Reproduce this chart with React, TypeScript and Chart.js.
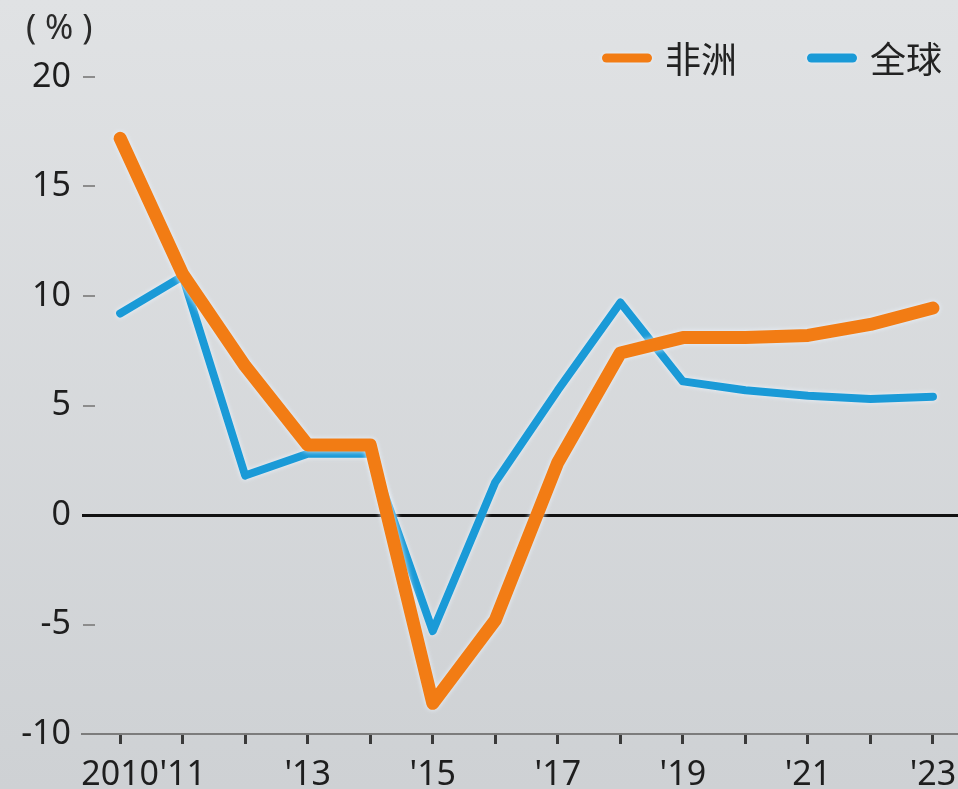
import { useEffect, useRef } from "react";
import { Chart, registerables } from "chart.js";

Chart.register(...registerables);

// ---- data ----
const years = [2010, 2011, 2012, 2013, 2014, 2015, 2016, 2017, 2018, 2019, 2020, 2021, 2022, 2023];
const africa = [17.2, 11.0, 6.8, 3.2, 3.2, -8.6, -4.8, 2.4, 7.4, 8.1, 8.1, 8.2, 8.7, 9.45];
const world = [9.2, 10.9, 1.8, 2.8, 2.8, -5.3, 1.5, 5.7, 9.7, 6.1, 5.7, 5.45, 5.3, 5.4];
const seriesNames = ["非洲", "全球"];
const seriesColors = ["#f27c14", "#1a9ad7"];
const xTickLabels: Record<number, string> = {
  2010: "2010",
  2011: "'11",
  2013: "'13",
  2015: "'15",
  2017: "'17",
  2019: "'19",
  2021: "'21",
  2023: "'23",
};
const yMin = -10;
const yMax = 20;
const yStep = 5;
const unitLabel = "( % )";

const W = 958;
const H = 789;

const bgPlugin = {
  id: "bg",
  beforeDraw(chart: any) {
    const { ctx, width, height } = chart;
    const g = ctx.createLinearGradient(0, 0, 0, height);
    g.addColorStop(0, "#e0e2e4");
    g.addColorStop(1, "#ced1d4");
    ctx.save();
    ctx.fillStyle = g;
    ctx.fillRect(0, 0, width, height);
    ctx.restore();
  },
};

const glowPlugin = {
  id: "glow",
  beforeDatasetDraw(chart: any) {
    const ctx = chart.ctx;
    ctx.save();
    ctx.shadowColor = "rgba(236,246,255,0.95)";
    ctx.shadowBlur = 5;
  },
  afterDatasetDraw(chart: any) {
    chart.ctx.restore();
  },
};

const decorPlugin = {
  id: "decor",
  beforeDatasetsDraw(chart: any) {
    const { ctx, chartArea, scales } = chart;
    const y = scales.y;
    ctx.save();
    ctx.strokeStyle = "#8c8c8c";
    ctx.lineWidth = 2;
    y.ticks.forEach((t: any) => {
      if (t.value === 0 || t.value === yMin) return;
      const py = Math.round(y.getPixelForValue(t.value));
      ctx.beginPath();
      ctx.moveTo(chartArea.left + 1, py);
      ctx.lineTo(chartArea.left + 13, py);
      ctx.stroke();
    });
    ctx.restore();
  },
  afterDraw(chart: any) {
    const { ctx, width } = chart;
    ctx.save();
    // unit label
    ctx.fillStyle = "#2a2a2a";
    ctx.font = '34px "Noto Sans", sans-serif';
    ctx.textAlign = "left";
    ctx.textBaseline = "middle";
    ctx.fillText(unitLabel, 26, 29);

    // legend
    ctx.font = '36px "Noto Sans CJK SC", sans-serif';
    const lineLen = 50;
    const gapText = 13;
    const itemGap = 70;
    const ly = 58;
    const items = chart.data.datasets.map((d: any) => ({
      text: d.label,
      color: d.borderColor,
      w: lineLen + gapText + ctx.measureText(d.label).width,
    }));
    let x = width - 16;
    const starts: number[] = [];
    for (let i = items.length - 1; i >= 0; i--) {
      x -= items[i].w;
      starts[i] = x;
      x -= itemGap;
    }
    items.forEach((it: any, i: number) => {
      const sx = starts[i];
      ctx.save();
      ctx.shadowColor = "rgba(236,246,255,0.95)";
      ctx.shadowBlur = 4;
      ctx.strokeStyle = it.color;
      ctx.lineWidth = 9;
      ctx.lineCap = "round";
      ctx.beginPath();
      ctx.moveTo(sx + 4.5, ly);
      ctx.lineTo(sx + lineLen - 4.5, ly);
      ctx.stroke();
      ctx.restore();
      ctx.fillStyle = "#222";
      ctx.textBaseline = "middle";
      ctx.fillText(it.text, sx + lineLen + gapText, ly + 1);
    });
    ctx.restore();
  },
};

export default function App() {
  const ref = useRef<HTMLCanvasElement | null>(null);

  useEffect(() => {
    if (!ref.current) return;
    const tickFont = { family: '"Noto Sans", sans-serif', size: 34 };
    const chart = new Chart(ref.current, {
      type: "line",
      data: {
        datasets: [
          {
            label: seriesNames[0],
            data: years.map((x, i) => ({ x, y: africa[i] })),
            borderColor: seriesColors[0],
            backgroundColor: seriesColors[0],
            borderWidth: 13,
            borderJoinStyle: "round",
            borderCapStyle: "round",
            pointRadius: 0,
            tension: 0,
          },
          {
            label: seriesNames[1],
            data: years.map((x, i) => ({ x, y: world[i] })),
            borderColor: seriesColors[1],
            backgroundColor: seriesColors[1],
            borderWidth: 8,
            borderJoinStyle: "round",
            borderCapStyle: "round",
            pointRadius: 0,
            tension: 0,
          },
        ],
      },
      options: {
        animation: false,
        responsive: false,
        devicePixelRatio: 1,
        layout: { padding: { top: 77, left: 0, right: 0, bottom: 0 } },
        plugins: {
          legend: { display: false },
          tooltip: { enabled: false },
        },
        scales: {
          x: {
            type: "linear",
            min: 2009.39,
            max: 2023.4,
            afterBuildTicks: (s: any) => {
              s.ticks = years.map((v) => ({ value: v }));
            },
            afterFit: (s: any) => {
              s.height = 55;
              s.paddingLeft = 0;
              s.paddingRight = 0;
            },
            border: { display: true, color: "#7c7c7c", width: 2 },
            grid: {
              display: true,
              drawOnChartArea: false,
              drawTicks: true,
              tickLength: 10,
              tickColor: "#3a3a3a",
              tickWidth: 3,
            },
            ticks: {
              autoSkip: false,
              maxRotation: 0,
              padding: 11,
              color: "#1e1e1e",
              font: tickFont,
              callback: (v: any) => xTickLabels[v as number] ?? "",
            },
          },
          y: {
            min: yMin,
            max: yMax,
            afterFit: (s: any) => {
              s.width = 82;
              s.paddingTop = 0;
              s.paddingBottom = 0;
            },
            border: { display: false },
            grid: {
              display: true,
              drawTicks: false,
              drawOnChartArea: true,
              color: (c: any) => (c.tick && c.tick.value === 0 ? "#111" : "rgba(0,0,0,0)"),
              lineWidth: (c: any) => (c.tick && c.tick.value === 0 ? 3 : 0),
            },
            ticks: {
              stepSize: yStep,
              padding: 11,
              color: "#1e1e1e",
              font: tickFont,
            },
          },
        },
      } as any,
      plugins: [bgPlugin, glowPlugin, decorPlugin],
    });
    return () => chart.destroy();
  }, []);

  return (
    <div style={{ position: "absolute", left: 0, top: 0, width: W, height: H }}>
      <canvas ref={ref} width={W} height={H} style={{ width: W, height: H, display: "block" }} />
    </div>
  );
}
